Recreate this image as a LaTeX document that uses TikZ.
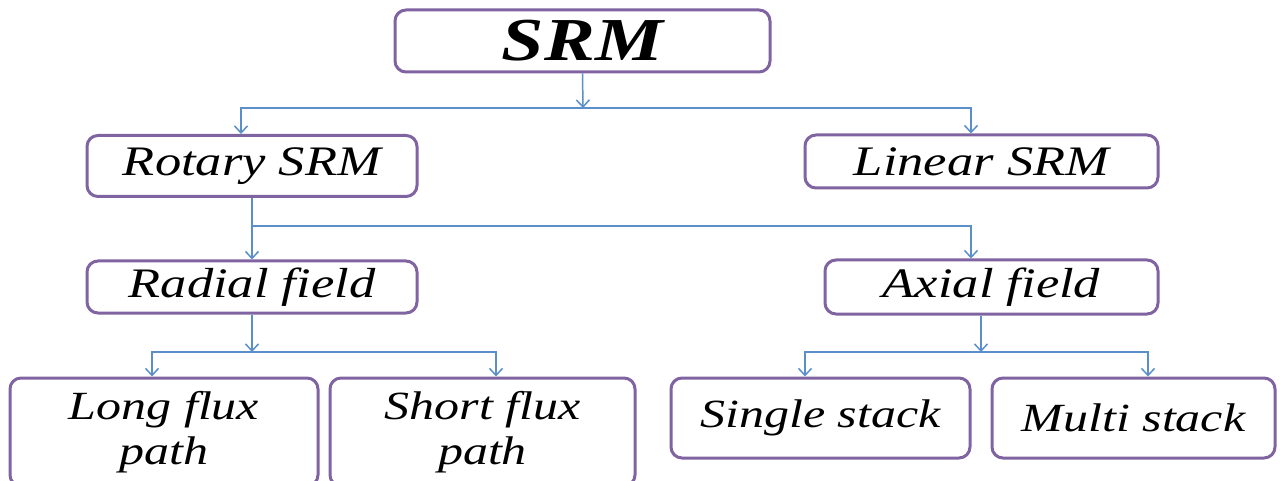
\documentclass[tikz,border=0pt]{standalone}
\usepackage{fontspec}
\usepackage{graphicx}
\setmainfont{Liberation Serif}
\usetikzlibrary{arrows.meta}
\definecolor{boxpurple}{HTML}{8064A2}
\definecolor{linkblue}{HTML}{5B8FCA}
\newcommand\wt[1]{\scalebox{1.25}[1]{#1}}
\tikzset{
  box/.style={draw=boxpurple, line width=3pt, rounded corners=11pt, fill=white,
    inner sep=0pt, align=center, text=black},
  midfont/.style={font=\fontsize{42}{48}\selectfont\itshape},
  lowfont/.style={font=\fontsize{40}{45}\selectfont\itshape},
  arr/.style={draw=linkblue, line width=1.5pt, -{Straight Barb[length=7pt,width=13pt]}},
  link/.style={draw=linkblue, line width=1.5pt}
}
\begin{document}
\begin{tikzpicture}[x=1pt,y=-1pt]
\useasboundingbox (0,0) rectangle (1280,481);
\clip (0,0) rectangle (1280,481);
\fill[white] (0,0) rectangle (1280,481);

\node[box, minimum width=375pt, minimum height=62pt,
  font=\fontsize{61}{66}\selectfont\bfseries\itshape] (srm) at (582.5,41) {\wt{SRM}};
\node[box, midfont, minimum width=330pt, minimum height=61pt] (rotary) at (252,166) {\wt{Rotary SRM}};
\node[box, midfont, minimum width=353pt, minimum height=53pt] (linear) at (981.5,161.5) {\wt{Linear SRM}};
\node[box, midfont, minimum width=330pt, minimum height=52pt] (radial) at (252,287) {\wt{Radial field}};
\node[box, midfont, minimum width=333pt, minimum height=54pt] (axial) at (991.5,287) {\wt{Axial field}};
\node[box, lowfont, minimum width=308pt, minimum height=108pt] (long) at (164,432) {\wt{Long flux}\\\wt{path}};
\node[box, lowfont, minimum width=305pt, minimum height=108pt] (short) at (482.5,432) {\wt{Short flux}\\\wt{path}};
\node[box, lowfont, minimum width=299pt, minimum height=80pt] (single) at (820.5,418) {\wt{Single stack}};
\node[box, lowfont, minimum width=283pt, minimum height=80pt] (multi) at (1133.5,418) {\wt{Multi stack}};

\coordinate (j1) at (583,108);
\coordinate (j2) at (252,226);
\coordinate (j3) at (252,352);
\coordinate (j4) at (981,352);

\draw[arr] (srm.south) -- (j1);
\draw[arr] (j1) -| ([xshift=-11pt]rotary.north);
\draw[arr] (j1) -| ([xshift=-10.5pt]linear.north);

\draw[arr] (rotary.south) -- (radial.north);
\draw[arr] (j2) -| ([xshift=-20.5pt]axial.north);

\draw[arr] (radial.south) -- (j3);
\draw[arr] (j3) -| ([xshift=-12pt]long.north);
\draw[arr] (j3) -| ([xshift=13.5pt]short.north);

\draw[arr] ([xshift=-10.5pt]axial.south) -- (j4);
\draw[arr] (j4) -| ([xshift=-15.5pt]single.north);
\draw[arr] (j4) -| ([xshift=14.5pt]multi.north);
\end{tikzpicture}
\end{document}
